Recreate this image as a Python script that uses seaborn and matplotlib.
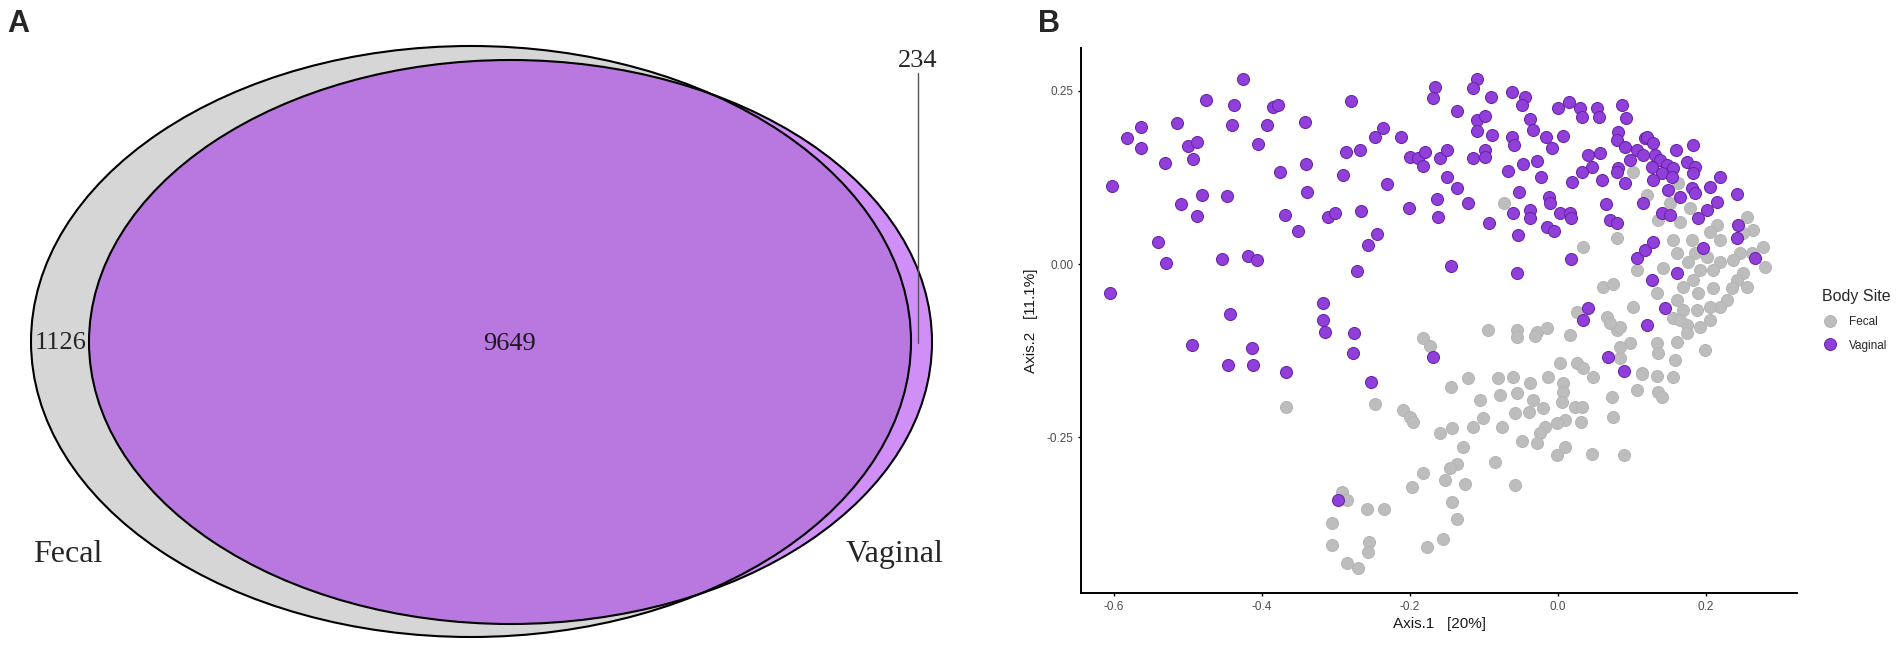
import numpy as np
import pandas as pd
import seaborn as sns
import matplotlib.pyplot as plt
from matplotlib.patches import Ellipse
from matplotlib.lines import Line2D

# Venn counts (panel A)
set_names = ['Fecal', 'Vaginal']
fecal_only = 1126
shared = 9649
vaginal_only = 234

# PCoA coordinates (panel B)
fecal_x = [-0.073, 0.101, 0.034, 0.080, 0.061, 0.074, 0.101, 0.107, 0.026, 0.066, 0.080, -0.095,
           -0.055, -0.028, -0.015, 0.016, -0.182, -0.368, -0.247, -0.209, -0.200, -0.196, -0.173,
           -0.145, -0.122, -0.055, -0.031, 0.003, 0.026, 0.034, 0.047, 0.073, 0.074, 0.107, 0.114,
           0.097, 0.084, -0.081, -0.061, -0.038, -0.014, 0.007, 0.007, 0.005, 0.023, 0.032, 0.031,
           0.009, -0.001, -0.018, -0.024, -0.028, -0.049, -0.076, -0.101, -0.115, -0.143, -0.159,
           -0.128, -0.105, -0.078, -0.055, -0.034, -0.020, -0.039, -0.058, -0.001, 0.009, 0.046,
           0.089, -0.085, -0.136, -0.146, -0.153, -0.126, -0.182, -0.197, -0.058, -0.143, -0.136,
           -0.155, -0.177, -0.292, -0.285, -0.258, -0.235, -0.305, -0.305, -0.255, -0.257, -0.285,
           -0.270, 0.120, 0.162, 0.151, 0.135, 0.165, 0.178, 0.215, 0.205, 0.219, 0.255, 0.264,
           0.250, 0.277, 0.280, 0.262, 0.246, 0.156, 0.161, 0.181, 0.185, 0.176, 0.201, 0.219,
           0.236, 0.142, 0.192, 0.209, 0.250, 0.242, 0.255, 0.182, 0.169, 0.189, 0.209, 0.235,
           0.228, 0.219, 0.205, 0.188, 0.169, 0.161, 0.134, 0.084, 0.205, 0.192, 0.174, 0.156,
           0.070, 0.084, 0.134, 0.135, 0.161, 0.174, 0.165, 0.199, 0.158, 0.113, 0.134, 0.156,
           0.135, 0.140]
fecal_y = [0.088, 0.133, 0.025, 0.038, -0.033, -0.029, -0.062, -0.009, -0.069, -0.077, -0.095, -0.095,
           -0.095, -0.098, -0.093, -0.103, -0.107, -0.207, -0.202, -0.211, -0.221, -0.228, -0.118,
           -0.178, -0.165, -0.105, -0.104, -0.143, -0.143, -0.150, -0.163, -0.192, -0.221, -0.182, -0.158,
           -0.114, -0.136, -0.165, -0.163, -0.172, -0.163, -0.172, -0.185, -0.199, -0.207, -0.207, -0.228,
           -0.225, -0.230, -0.235, -0.244, -0.259, -0.256, -0.235, -0.223, -0.235, -0.237, -0.244,
           -0.264, -0.197, -0.189, -0.186, -0.197, -0.208, -0.214, -0.215, -0.276, -0.264, -0.275,
           -0.276, -0.286, -0.288, -0.295, -0.312, -0.318, -0.302, -0.322, -0.319, -0.344, -0.368,
           -0.397, -0.409, -0.329, -0.341, -0.354, -0.353, -0.374, -0.405, -0.402, -0.416, -0.431,
           -0.439, 0.100, 0.117, 0.088, 0.064, 0.061, 0.081, 0.056, 0.046, 0.035, 0.068, 0.049,
           0.045, 0.025, -0.004, 0.016, 0.016, 0.035, 0.016, 0.035, 0.016, 0.003, 0.010, 0.003,
           0.006, -0.006, -0.009, -0.009, -0.013, -0.023, -0.033, -0.023, -0.033, -0.042, -0.035, -0.035,
           -0.052, -0.062, -0.062, -0.066, -0.066, -0.052, -0.042, -0.091, -0.081, -0.091, -0.088, -0.078,
           -0.085, -0.120, -0.114, -0.129, -0.113, -0.100, -0.081, -0.124, -0.139, -0.159, -0.162, -0.163,
           -0.185, -0.192]

vaginal_x = [-0.603, -0.582, -0.564, -0.564, -0.531, -0.515, -0.500, -0.488, -0.493, -0.476, -0.438,
             -0.426, -0.441, -0.405, -0.481, -0.447, -0.509, -0.488, -0.541, -0.530, -0.454, -0.419,
             -0.407, -0.605, -0.443, -0.495, -0.414, -0.446, -0.412,
             -0.385, -0.378, -0.393, -0.342, -0.280, -0.376, -0.341, -0.339, -0.369, -0.351, -0.311,
             -0.301, -0.286, -0.268, -0.291, -0.266, -0.247, -0.237, -0.212, -0.231, -0.245, -0.257,
             -0.272, -0.318, -0.318, -0.315, -0.276, -0.201, -0.200, -0.189, -0.180, -0.182, -0.166,
             -0.169, -0.137, -0.159, -0.150, -0.150, -0.137, -0.164, -0.162, -0.122, -0.145, -0.109,
             -0.115, -0.091, -0.062, -0.045, -0.049, -0.109, -0.099, -0.109, -0.089, -0.115, -0.099,
             -0.099, -0.062, -0.059, -0.038, -0.034, -0.016, -0.008, 0.007, -0.068, -0.047, -0.028,
             -0.023, -0.053, -0.012, -0.011, -0.061, -0.038, -0.038, -0.093, -0.015, -0.005, 0.003,
             0.016, 0.018, -0.054, -0.055, 0.018, 0.000, 0.015, 0.030, 0.032, 0.053, 0.055, 0.086,
             0.092, 0.081, 0.080, 0.091, 0.107, 0.118, 0.041, 0.057, 0.046, 0.032, 0.019, 0.059,
             0.081, 0.091, 0.097, 0.065, 0.070, 0.080, 0.115, 0.107, 0.118, 0.041, 0.034, 0.120,
             -0.277, -0.368, -0.253, -0.169, -0.297, 0.068, 0.089,
             0.120, 0.128, 0.115, 0.131, 0.138, 0.127, 0.147, 0.140, 0.156, 0.159, 0.182, 0.174,
             0.185, 0.182, 0.154, 0.128, 0.080, 0.149, 0.165, 0.181, 0.185, 0.205, 0.219, 0.215,
             0.242, 0.140, 0.151, 0.189, 0.201, 0.243, 0.242, 0.128, 0.196, 0.266, 0.161, 0.127,
             0.145]
vaginal_y = [0.113, 0.182, 0.198, 0.168, 0.146, 0.204, 0.170, 0.176, 0.152, 0.237, 0.230,
             0.267, 0.201, 0.173, 0.100, 0.098, 0.087, 0.069, 0.032, 0.001, 0.007, 0.012,
             0.006, -0.042, -0.072, -0.117, -0.121, -0.146, -0.146,
             0.227, 0.230, 0.201, 0.205, 0.235, 0.133, 0.145, 0.104, 0.071, 0.048, 0.068,
             0.074, 0.162, 0.165, 0.129, 0.077, 0.184, 0.197, 0.184, 0.116, 0.043, 0.027,
             -0.010, -0.056, -0.081, -0.098, -0.100, 0.081, 0.155, 0.153, 0.162, 0.142, 0.256,
             0.240, 0.221, 0.153, 0.165, 0.126, 0.110, 0.094, 0.068, 0.088, -0.003, 0.267,
             0.254, 0.241, 0.249, 0.241, 0.230, 0.208, 0.214, 0.192, 0.186, 0.153, 0.165,
             0.155, 0.184, 0.172, 0.210, 0.194, 0.184, 0.168, 0.185, 0.134, 0.145, 0.149,
             0.126, 0.104, 0.097, 0.088, 0.074, 0.078, 0.066, 0.059, 0.054, 0.048, 0.074,
             0.074, 0.066, 0.042, -0.013, 0.007, 0.225, 0.234, 0.225, 0.212, 0.225, 0.212, 0.230,
             0.211, 0.191, 0.179, 0.169, 0.165, 0.182, 0.158, 0.160, 0.140, 0.133, 0.118, 0.121,
             0.139, 0.117, 0.150, 0.087, 0.064, 0.059, 0.088, 0.009, 0.020, -0.064, -0.081, -0.088,
             -0.129, -0.156, -0.171, -0.134, -0.341, -0.134, -0.155,
             0.184, 0.175, 0.158, 0.158, 0.150, 0.140, 0.143, 0.131, 0.139, 0.165, 0.172, 0.147,
             0.140, 0.131, 0.126, 0.121, 0.133, 0.107, 0.097, 0.110, 0.103, 0.111, 0.126, 0.090,
             0.101, 0.074, 0.071, 0.066, 0.078, 0.056, 0.038, 0.032, 0.023, 0.009, -0.013, -0.023,
             -0.064]

x_ticks = [-0.6, -0.4, -0.2, 0.0, 0.2]
x_tick_labels = ['-0.6', '-0.4', '-0.2', '0.0', '0.2']
y_ticks = [-0.25, 0.0, 0.25]
y_tick_labels = ['-0.25', '0.00', '0.25']

df = pd.concat([
    pd.DataFrame({'Axis.1': fecal_x, 'Axis.2': fecal_y, 'Body Site': 'Fecal'}),
    pd.DataFrame({'Axis.1': vaginal_x, 'Axis.2': vaginal_y, 'Body Site': 'Vaginal'}),
])

sns.set_style('white')
plt.rcParams['font.family'] = ['Liberation Sans', 'DejaVu Sans']

W, H = 1901, 647
fig = plt.figure(figsize=(W / 100, H / 100), dpi=100)

# ---------------- Panel A: Venn ----------------
ax_a = fig.add_axes([0, 0, 960 / W, 1])
ax_a.set_xlim(0, 960)
ax_a.set_ylim(H, 0)
ax_a.axis('off')

grey_fill = '#D6D6D6'
purple_fill = (148 / 255, 0, 237 / 255, 0.44)
fecal_geo = dict(xy=(471, 341.5), width=880, height=591)
vaginal_geo = dict(xy=(510.5, 342), width=843, height=564)

ax_a.add_patch(Ellipse(**fecal_geo, facecolor=grey_fill, edgecolor='none'))
ax_a.add_patch(Ellipse(**vaginal_geo, facecolor=purple_fill, edgecolor='none'))
ax_a.add_patch(Ellipse(**fecal_geo, fill=False, edgecolor='black', lw=1.5))
ax_a.add_patch(Ellipse(**vaginal_geo, fill=False, edgecolor='black', lw=1.5))

ax_a.plot([918, 918], [73, 343], color='#555555', lw=1.0)

serif = ['Liberation Serif', 'DejaVu Serif']
ax_a.text(61, 349, str(fecal_only), ha='center', va='baseline', fontsize=19, family=serif)
ax_a.text(509, 350, str(shared), ha='center', va='baseline', fontsize=19, family=serif, color='#1a1a1a')
ax_a.text(918, 67, str(vaginal_only), ha='center', va='baseline', fontsize=19, family=serif)
ax_a.text(33, 562, set_names[0], ha='left', va='baseline', fontsize=23, family=serif)
ax_a.text(943, 562, set_names[1], ha='right', va='baseline', fontsize=23, family=serif)

# ---------------- Panel B: PCoA ----------------
ax_b = fig.add_axes([1081 / W, 1 - 593 / H, (1797 - 1081) / W, (593 - 48) / H])
pal = {'Fecal': '#BDBDBD', 'Vaginal': '#9040D8'}
edges = {'Fecal': '#B5B5B5', 'Vaginal': '#6620A8'}
for site in ['Fecal', 'Vaginal']:
    sns.scatterplot(data=df[df['Body Site'] == site], x='Axis.1', y='Axis.2', ax=ax_b,
                    color=pal[site], edgecolor=edges[site], linewidth=0.7, s=75, legend=False)

ax_b.set_xlim(-0.6446, 0.323)
ax_b.set_ylim(-0.475, 0.312)
ax_b.set_xticks(x_ticks)
ax_b.set_xticklabels(x_tick_labels)
ax_b.set_yticks(y_ticks)
ax_b.set_yticklabels(y_tick_labels)
ax_b.tick_params(direction='out', length=2.5, width=1.0, color='black', labelcolor='#4D4D4D',
                 labelsize=8.5, pad=3, left=True, bottom=True)
sns.despine(ax=ax_b)
for sp in ['left', 'bottom']:
    ax_b.spines[sp].set_linewidth(1.4)
    ax_b.spines[sp].set_color('black')
ax_b.set_xlabel('Axis.1   [20%]', fontsize=11, color='#1a1a1a', labelpad=3)
ax_b.set_ylabel('Axis.2   [11.1%]', fontsize=11, color='#1a1a1a', labelpad=6)

handles = [Line2D([], [], marker='o', linestyle='none', markersize=8.6,
                  markerfacecolor=pal[k], markeredgecolor=edges[k], markeredgewidth=0.7)
           for k in ['Fecal', 'Vaginal']]
ax_b.legend(handles, ['Fecal', 'Vaginal'], title='Body Site', loc='upper left',
            bbox_to_anchor=(1822 / W, 1 - 289 / H), bbox_transform=fig.transFigure,
            frameon=False, fontsize=8.5, title_fontsize=11.5, alignment='left',
            borderpad=0, borderaxespad=0, labelspacing=1.0, handlelength=1.3,
            handletextpad=1.0)

fig.text(7 / W, 1 - 9 / H, 'A', ha='left', va='top', fontsize=22, weight='bold')
fig.text(1038 / W, 1 - 9 / H, 'B', ha='left', va='top', fontsize=22, weight='bold')

fig.savefig('out.png', dpi=100)
